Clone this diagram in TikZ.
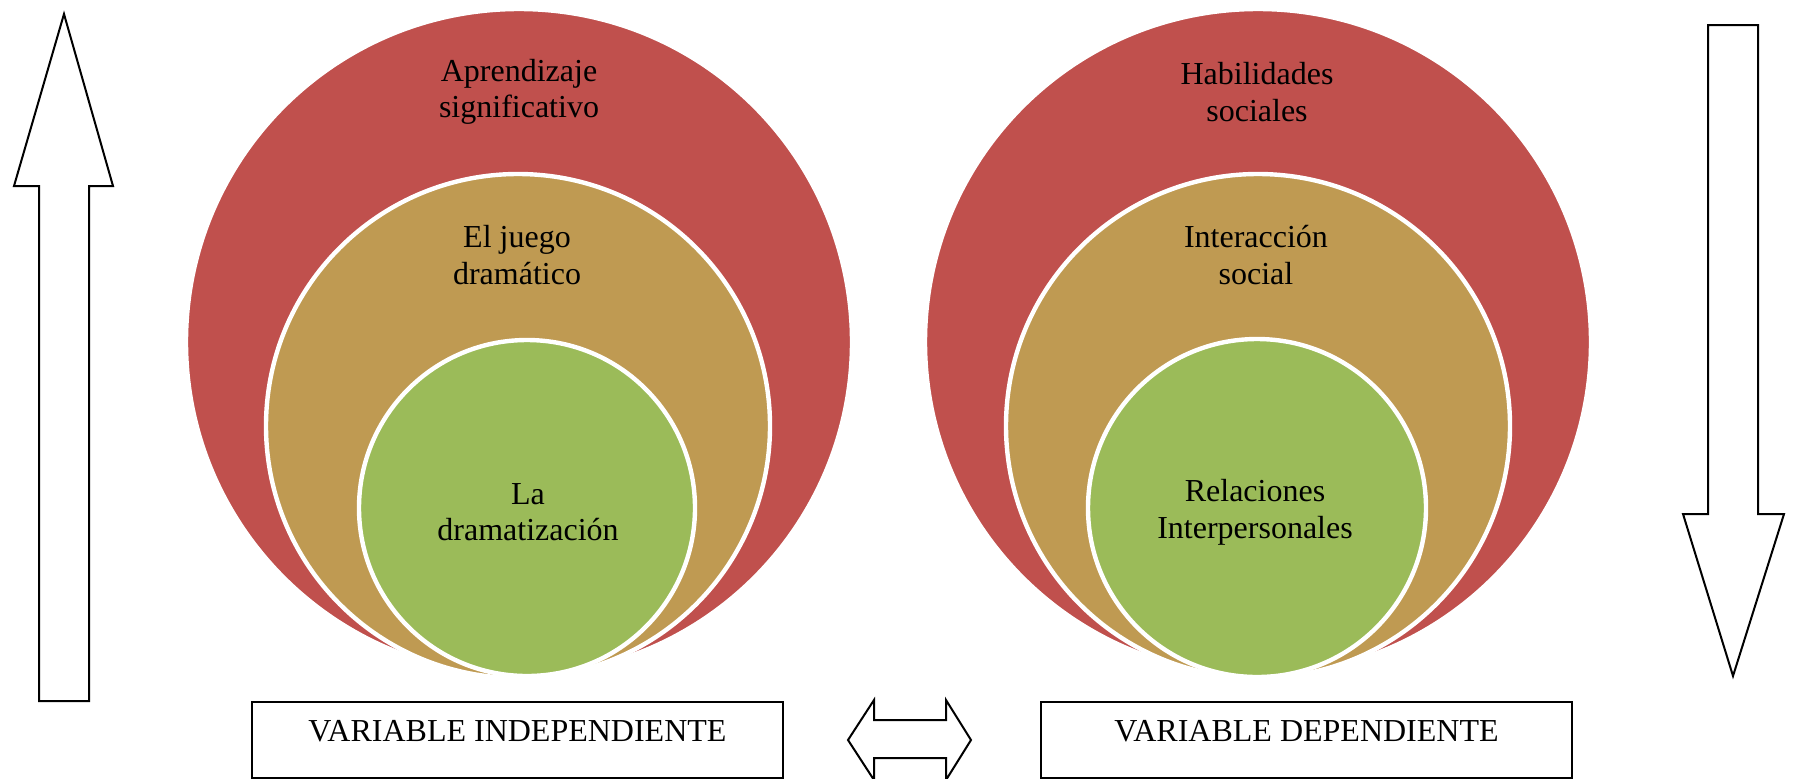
\documentclass[tikz,border=0pt]{standalone}
\usepackage{fontspec}
\setmainfont{Liberation Serif}
\definecolor{cred}{HTML}{C0504D}
\definecolor{cgold}{HTML}{BF9A52}
\definecolor{cgreen}{HTML}{9BBB59}
\begin{document}
\begin{tikzpicture}[x=0.5pt,y=-0.5pt,
  ring/.style={circle, draw=white, line width=2.2pt, inner sep=0pt},
  lbl/.style={align=center, font=\fontsize{16}{18.3}\selectfont, text=black, inner sep=0pt},
  frame/.style={draw=black, line width=1pt, fill=white, inner sep=0pt},
  shapeline/.style={draw=black, line width=1pt, fill=white, line join=miter}]
\useasboundingbox (0,0) rectangle (1794,778);
\fill[white] (0,0) rectangle (1794,778);

% left nested circles
\node[ring, fill=cred, minimum size=333pt] (lr) at (519,342) {};
\node[ring, fill=cgold, minimum size=252pt] (lg) at (518,426) {};
\node[ring, fill=cgreen, minimum size=168pt] (lc) at (527,508) {};
\node[lbl] (lrt) at (519,92) {Aprendizaje\\significativo};
\node[lbl] (lgt) at (517,255) {El juego\\dram\'atico};
\node[lbl] (lct) at (528,512) {La\\dramatizaci\'on};

% right nested circles
\node[ring, fill=cred, minimum size=333pt] (rr) at (1258,342) {};
\node[ring, fill=cgold, minimum size=252pt] (rg) at (1258,426) {};
\node[ring, fill=cgreen, minimum size=169pt] (rc) at (1257,508) {};
\node[lbl] (rrt) at (1257,92) {Habilidades\\sociales};
\node[lbl] (rgt) at (1256,255) {Interacci\'on\\social};
\node[lbl] (rct) at (1255,512) {Relaciones\\Interpersonales};

% up arrow (left)
\path[shapeline] (64,14) -- (113,186) -- (89,186) -- (89,701) -- (39,701) -- (39,186) -- (14,186) -- cycle;
% down arrow (right)
\path[shapeline] (1708,25) -- (1758,25) -- (1758,514) -- (1784,514) -- (1733,676) -- (1683,514) -- (1708,514) -- cycle;

% boxes
\node[frame, minimum width=265.5pt, minimum height=38pt] (vi) at (517.5,740) {};
\node[frame, minimum width=265.5pt, minimum height=38pt] (vd) at (1306.5,740) {};
\node[lbl] (vit) at (517.5,731) {VARIABLE INDEPENDIENTE};
\node[lbl] (vdt) at (1306.5,731) {VARIABLE DEPENDIENTE};

% double arrow
\path[shapeline] (848,740) -- (874,700) -- (874,720) -- (946,720) -- (946,700) -- (971,740) -- (946,780) -- (946,758) -- (874,758) -- (874,780) -- cycle;
\end{tikzpicture}
\end{document}
